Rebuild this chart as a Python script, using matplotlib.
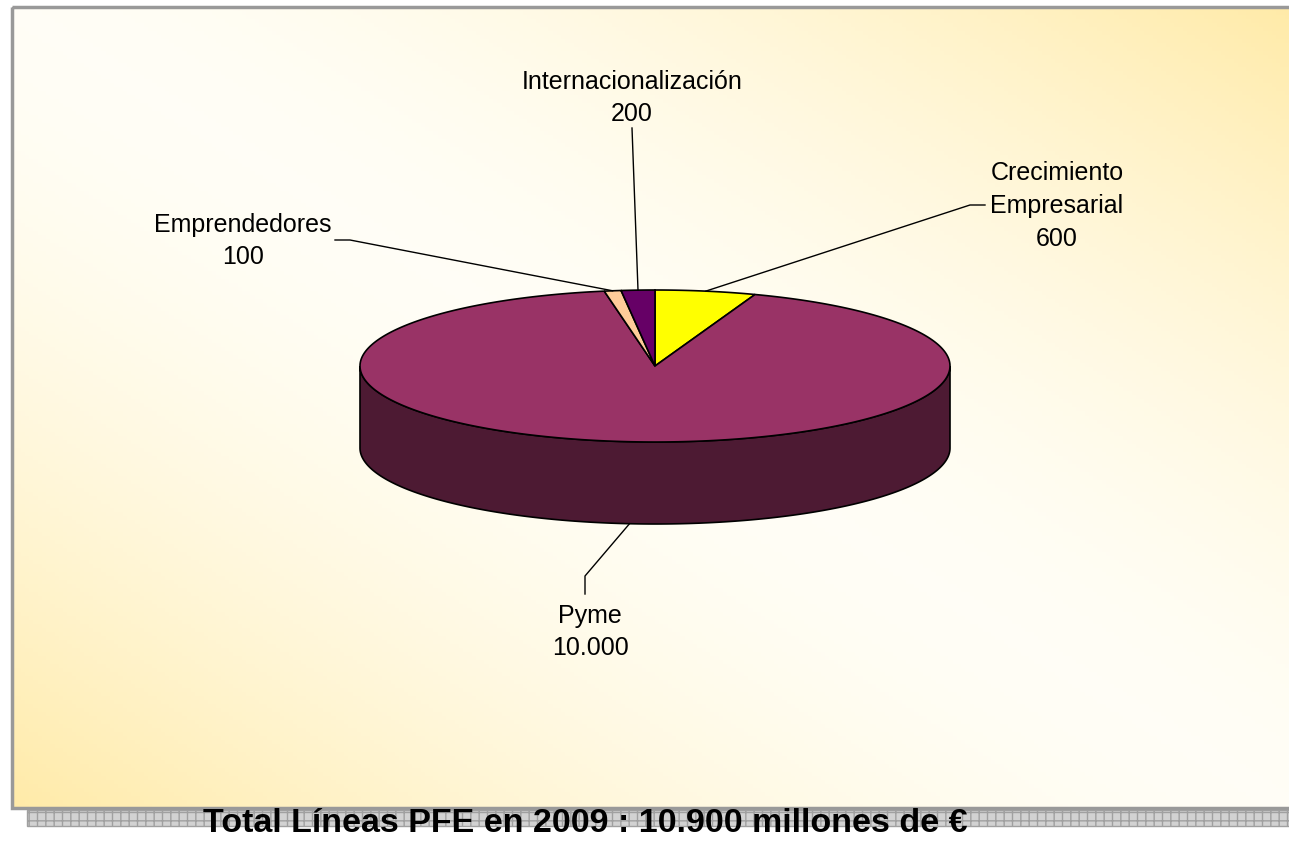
import matplotlib.pyplot as plt
import numpy as np
from matplotlib.patches import Rectangle

# data
labels = ['Crecimiento\nEmpresarial', 'Pyme', 'Emprendedores', 'Internacionalización']
values = [600, 10000, 100, 200]
value_text = ['600', '10.000', '100', '200']
colors = ['#FFFF00', '#993366', '#FFCC99', '#660066']
side_colors = ['#808000', '#4D1A33', '#806650', '#330033']
title = 'Total Líneas PFE en 2009 : 10.900 millones de €'

plt.rcParams['font.family'] = ['Liberation Sans', 'DejaVu Sans']
plt.rcParams['hatch.color'] = '#a8a8a8'

W, H = 1289, 843
fig = plt.figure(figsize=(W / 100, H / 100), dpi=100)
ax = fig.add_axes([0, 0, 1, 1])
ax.set_xlim(0, W)
ax.set_ylim(H, 0)
ax.axis('off')

# background gradient (yellow in top-right / bottom-left corners)
gx, gy = np.meshgrid(np.linspace(0, 1, 300), np.linspace(1, 0, 200))
t = np.abs(gx + gy - 1) ** 1.7
white = np.array([1.0, 0.996, 0.965])
yellow = np.array([1.0, 0.92, 0.66])
grad = white[None, None, :] * (1 - t[..., None]) + yellow[None, None, :] * t[..., None]
ax.imshow(grad, extent=[12, W, 808, 7], aspect='auto', zorder=0)
ax.add_patch(Rectangle((12, 7), W, 801, fill=False, edgecolor='#999999', lw=2.5, zorder=1))

# title strip
ax.add_patch(Rectangle((27, 810), W, 16, facecolor='#d2d2d2', edgecolor='#a0a0a0',
                       hatch='++', lw=1, zorder=1))
ax.text(585, 823, title, ha='center', va='center', fontsize=24.5, fontweight='bold', zorder=5)

# 3d pie
cx, cy, a, b, depth = 655, 366, 295, 76, 82
total = sum(values)
edges = np.concatenate([[0], np.cumsum(values)]) / total * 360


def pt(th):
    r = np.radians(th)
    return cx + a * np.sin(r), cy - b * np.cos(r)


# side walls (front half only)
for i in range(len(values)):
    lo, hi = max(edges[i], 90), min(edges[i + 1], 270)
    if hi <= lo:
        continue
    th = np.linspace(lo, hi, 200)
    xs, ys = pt(th)
    px = np.concatenate([xs, xs[::-1]])
    py = np.concatenate([ys, ys[::-1] + depth])
    ax.fill(px, py, color=side_colors[i], ec='black', lw=1.2, zorder=2)

# top faces
for i in range(len(values)):
    th = np.linspace(edges[i], edges[i + 1], 400)
    xs, ys = pt(th)
    ax.fill(np.concatenate([[cx], xs]), np.concatenate([[cy], ys]),
            color=colors[i], ec='black', lw=1.2, zorder=3)

# labels and leader lines
fs = 18
ls = 1.45
mid = (edges[:-1] + edges[1:]) / 2

# Crecimiento Empresarial
x0, y0 = pt(mid[0])
ax.plot([x0, 970, 985], [y0, 205, 205], color='black', lw=1, zorder=4)
ax.text(1057, 206, labels[0] + '\n' + value_text[0], ha='center', va='center',
        fontsize=fs, linespacing=ls, zorder=5)

# Pyme
x1, y1 = pt(mid[1])
ax.plot([x1, 585, 585], [y1 + depth, 576, 594], color='black', lw=1, zorder=4)
ax.text(590, 632, labels[1] + '\n' + value_text[1], ha='center', va='center',
        fontsize=fs, linespacing=ls, zorder=5)

# Emprendedores
x2, y2 = pt(mid[2])
ax.plot([x2, 350, 335], [y2, 240, 240], color='black', lw=1, zorder=4)
ax.text(243, 241, labels[2] + '\n' + value_text[2], ha='center', va='center',
        fontsize=fs, linespacing=ls, zorder=5)

# Internacionalización
x3, y3 = pt(mid[3])
ax.plot([x3, 632], [y3, 128], color='black', lw=1, zorder=4)
ax.text(632, 98, labels[3] + '\n' + value_text[3], ha='center', va='center',
        fontsize=fs, linespacing=ls, zorder=5)

fig.savefig('out.png', dpi=100)
